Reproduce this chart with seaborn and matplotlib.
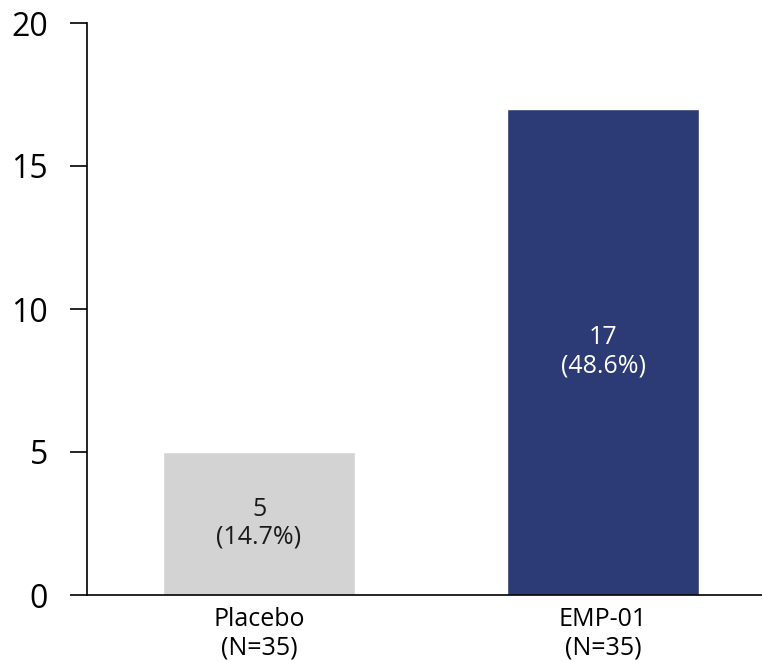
import matplotlib
matplotlib.use("Agg")
import matplotlib.pyplot as plt
import seaborn as sns
import pandas as pd

# Responders per arm
arms = ["Placebo", "EMP-01"]
arm_labels = ["Placebo\n(N=35)", "EMP-01\n(N=35)"]
responders = [5, 17]
percents = ["14.7%", "48.6%"]
bar_colors = ["#D3D3D3", "#2C3B76"]
text_colors = ["#1a1a1a", "#ffffff"]
y_ticks = [0, 5, 10, 15, 20]

sns.set_theme(style="white")
plt.rcParams["font.family"] = ["Open Sans", "DejaVu Sans"]

df = pd.DataFrame({"arm": arms, "responders": responders})

fig = plt.figure(figsize=(7.62, 6.61), dpi=100)
ax = fig.add_axes([87 / 762, 66 / 661, 688 / 762, 572 / 661])

sns.barplot(data=df, x="arm", y="responders", hue="arm",
            palette=dict(zip(arms, bar_colors)), width=0.558,
            saturation=1, legend=False, ax=ax)

ax.set_xlim(-0.5, 1.5)
ax.set_ylim(0, 20)
ax.set_yticks(y_ticks)
ax.set_yticklabels([str(t) for t in y_ticks], fontsize=23, color="black")
ax.set_xticks(range(len(arms)))
ax.set_xticklabels(arm_labels, fontsize=18, linespacing=1.18, color="black")
ax.set_xlabel("")
ax.set_ylabel("")

for s in ["top", "right"]:
    ax.spines[s].set_visible(False)
for s in ["left", "bottom"]:
    ax.spines[s].set_color("black")
    ax.spines[s].set_linewidth(1.2)

ax.tick_params(axis="y", which="major", direction="out", length=12,
               width=1.2, color="black", pad=16, left=True)
ax.tick_params(axis="x", length=0, pad=9)

for i, (v, p, tc) in enumerate(zip(responders, percents, text_colors)):
    ax.text(i, v / 2, f"{v}\n({p})", ha="center", va="center",
            fontsize=18, color=tc, linespacing=1.15)

fig.savefig("out.png", dpi=100)
